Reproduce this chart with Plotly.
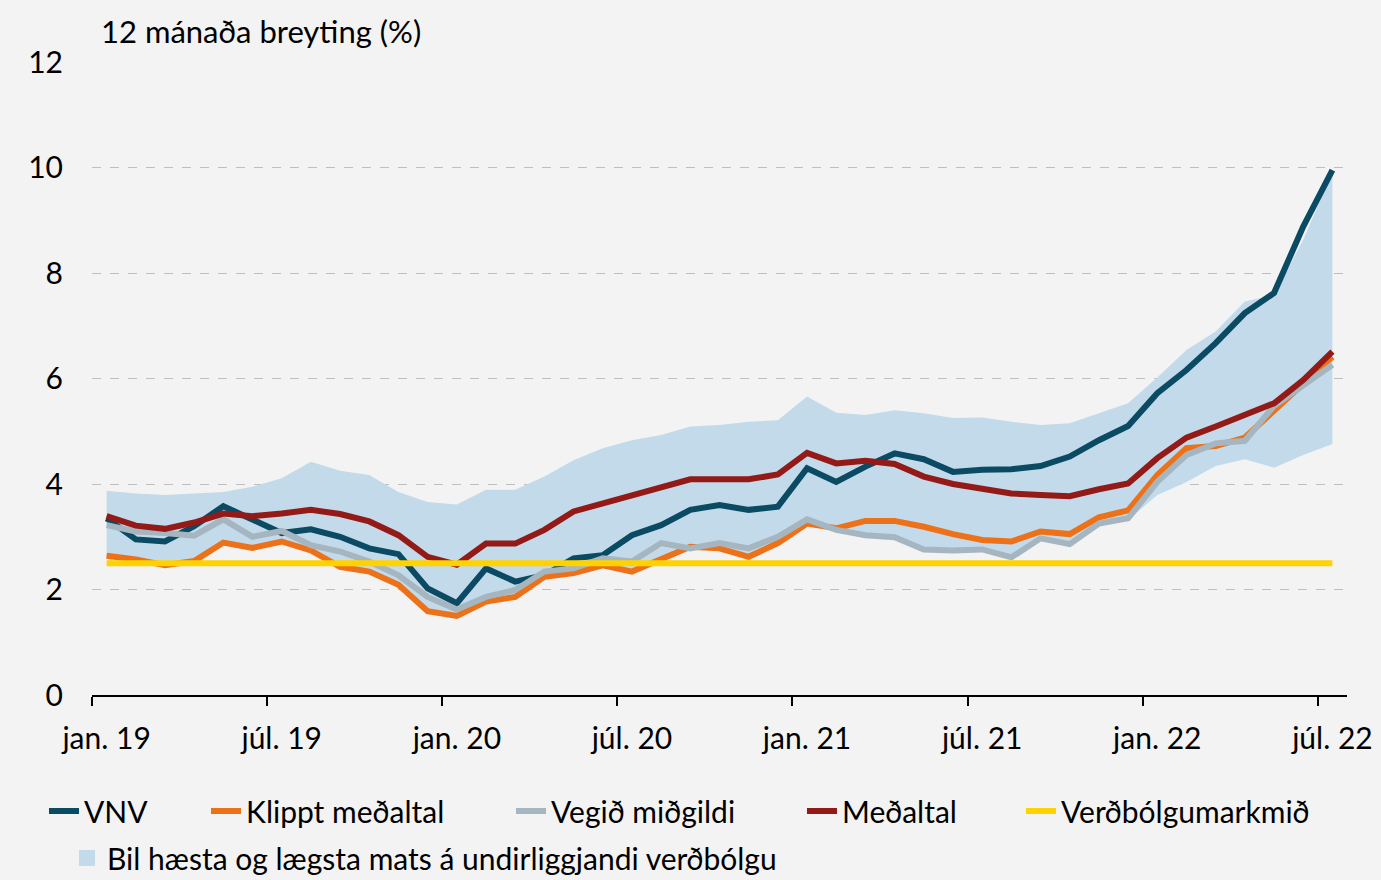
import plotly.graph_objects as go

# ---------------- data ----------------
month_abbr = ["jan.", "feb.", "mar.", "apr.", "maí", "jún.", "júl.", "ágú.", "sep.", "okt.", "nóv.", "des."]
months = [f"{m} {y}" for y in ["19", "20", "21", "22"] for m in month_abbr][:43]  # jan. 19 .. júl. 22

vnv = [3.35, 2.95, 2.91, 3.20, 3.58, 3.32, 3.07, 3.14, 3.00, 2.78, 2.67, 2.02, 1.74,
       2.40, 2.15, 2.27, 2.59, 2.65, 3.03, 3.22, 3.51, 3.60, 3.51, 3.57, 4.30, 4.04,
       4.33, 4.58, 4.47, 4.23, 4.27, 4.28, 4.34, 4.52, 4.83, 5.10, 5.72, 6.16, 6.67,
       7.24, 7.62, 8.88, 9.95]
klippt = [2.64, 2.57, 2.46, 2.54, 2.89, 2.79, 2.91, 2.74, 2.43, 2.34, 2.09, 1.59, 1.50,
          1.77, 1.86, 2.24, 2.31, 2.46, 2.34, 2.59, 2.81, 2.78, 2.62, 2.88, 3.25, 3.16,
          3.30, 3.30, 3.19, 3.05, 2.94, 2.91, 3.10, 3.05, 3.37, 3.50, 4.17, 4.68, 4.72,
          4.88, 5.40, 5.90, 6.41]
vegid = [3.22, 3.10, 3.07, 3.02, 3.33, 3.00, 3.11, 2.84, 2.72, 2.53, 2.27, 1.86, 1.62,
         1.86, 1.99, 2.34, 2.40, 2.59, 2.53, 2.88, 2.78, 2.88, 2.78, 3.00, 3.33, 3.13,
         3.03, 2.99, 2.76, 2.74, 2.76, 2.61, 2.97, 2.86, 3.25, 3.35, 4.04, 4.55, 4.77,
         4.82, 5.48, 5.88, 6.26]
medaltal = [3.39, 3.21, 3.15, 3.27, 3.44, 3.39, 3.44, 3.51, 3.43, 3.29, 3.03, 2.62, 2.47,
            2.87, 2.87, 3.13, 3.48, 3.63, 3.79, 3.92, 4.09, 4.09, 4.09, 4.18, 4.59, 4.39,
            4.44, 4.38, 4.14, 4.00, 3.90, 3.82, 3.79, 3.77, 3.90, 4.01, 4.49, 4.88, 5.09,
            5.31, 5.53, 5.97, 6.51]
markmid = [2.5, 2.5, 2.5, 2.5, 2.5, 2.5, 2.5, 2.5, 2.5, 2.5, 2.5, 2.5, 2.5, 2.5, 2.5,
           2.5, 2.5, 2.5, 2.5, 2.5, 2.5, 2.5, 2.5, 2.5, 2.5, 2.5, 2.5, 2.5, 2.5, 2.5,
           2.5, 2.5, 2.5, 2.5, 2.5, 2.5, 2.5, 2.5, 2.5, 2.5, 2.5, 2.5, 2.5]
bil_haest = [3.87, 3.82, 3.79, 3.82, 3.85, 3.95, 4.11, 4.42, 4.25, 4.17, 3.85, 3.66, 3.61,
             3.89, 3.89, 4.14, 4.45, 4.68, 4.83, 4.93, 5.09, 5.12, 5.18, 5.21, 5.66, 5.35,
             5.31, 5.40, 5.34, 5.25, 5.26, 5.18, 5.12, 5.15, 5.34, 5.53, 6.02, 6.54, 6.89,
             7.46, 7.58, 8.63, 9.92]
bil_laegst = [2.62, 2.55, 2.44, 2.52, 2.87, 2.77, 2.89, 2.72, 2.41, 2.32, 2.07, 1.57, 1.48,
              1.75, 1.84, 2.22, 2.29, 2.44, 2.32, 2.57, 2.76, 2.76, 2.60, 2.86, 3.23, 3.11,
              3.01, 2.97, 2.74, 2.72, 2.74, 2.59, 2.95, 2.84, 3.23, 3.32, 3.79, 4.04, 4.34,
              4.47, 4.31, 4.55, 4.76]

y_ticks = [0, 2, 4, 6, 8, 10, 12]

# ---------------- style ----------------
FONT = "Lato"
FS = 30
BG = "#f3f3f3"
W, H = 1381, 880
col = {
    "vnv": "#0b4a63",
    "klippt": "#ec7118",
    "vegid": "#a5b6c0",
    "medaltal": "#931a16",
    "markmid": "#ffd200",
    "bil": "#c2daea",
}
BAND_NAME = "Bil hæsta og lægsta mats á undirliggjandi verðbólgu"

fig = go.Figure()

# band (lower edge, then upper with fill)
fig.add_trace(go.Scatter(x=months, y=bil_laegst, mode="lines", line=dict(width=0, color=col["bil"]),
                         showlegend=False, hoverinfo="skip", legendgroup="bil"))
fig.add_trace(go.Scatter(x=months, y=bil_haest, mode="lines", line=dict(width=0, color=col["bil"]),
                         fill="tonexty", fillcolor=col["bil"], name=BAND_NAME,
                         showlegend=False, legendgroup="bil"))
# legend key for the band (square swatch)
fig.add_trace(go.Scatter(x=[None], y=[None], mode="markers", name=BAND_NAME, legendgroup="bil",
                         marker=dict(symbol="square", size=26, color=col["bil"]),
                         legend="legend6"))

LW = 6
fig.add_trace(go.Scatter(x=months, y=vnv, mode="lines", name="VNV",
                         line=dict(color=col["vnv"], width=LW), legend="legend"))
fig.add_trace(go.Scatter(x=months, y=klippt, mode="lines", name="Klippt meðaltal",
                         line=dict(color=col["klippt"], width=LW), legend="legend2"))
fig.add_trace(go.Scatter(x=months, y=vegid, mode="lines", name="Vegið miðgildi",
                         line=dict(color=col["vegid"], width=LW), legend="legend3"))
fig.add_trace(go.Scatter(x=months, y=medaltal, mode="lines", name="Meðaltal",
                         line=dict(color=col["medaltal"], width=LW), legend="legend4"))
fig.add_trace(go.Scatter(x=months, y=markmid, mode="lines", name="Verðbólgumarkmið",
                         line=dict(color=col["markmid"], width=LW), legend="legend5"))

# plot area in pixels
L, R, T, B = 92, 34, 62, 185


def leg(text_left_px, center_y_px, **kw):
    d = dict(
        x=(text_left_px - 40) / W, xref="container", xanchor="left",
        y=1 - center_y_px / H, yref="container", yanchor="middle",
        orientation="h", bgcolor="rgba(0,0,0,0)", borderwidth=0,
        font=dict(family=FONT, size=FS, color="#000000"),
    )
    d.update(kw)
    return d


fig.update_layout(
    width=W, height=H,
    margin=dict(l=L, r=R, t=T, b=B, autoexpand=False),
    paper_bgcolor=BG, plot_bgcolor=BG,
    font=dict(family=FONT, size=FS, color="#000000"),
    legend=leg(84, 811),
    legend2=leg(246, 811),
    legend3=leg(551, 811),
    legend4=leg(842, 811),
    legend5=leg(1061, 811),
    legend6=leg(107, 858, itemsizing="trace"),
    xaxis=dict(
        type="category", range=[-0.5, 42.5], dtick=6, tickson="boundaries",
        ticks="outside", ticklen=9, tickwidth=1.5, tickcolor="#000000",
        showline=True, linecolor="#000000", linewidth=1.5, tickangle=0,
        showgrid=False, zeroline=False, ticklabelstandoff=16, automargin=False,
        tickfont=dict(family=FONT, size=FS, color="#000000"),
    ),
    yaxis=dict(
        range=[0, 12], tickvals=y_ticks, ticks="", showline=False,
        showgrid=True, gridcolor="#bfbfbf", griddash="dash", gridwidth=1,
        zeroline=False, ticklabelstandoff=28, automargin=False,
        tickfont=dict(family=FONT, size=FS, color="#000000"),
    ),
    annotations=[dict(
        text="12 mánaða breyting (%)", xref="paper", yref="paper",
        x=(99 - L) / (W - L - R), y=(695 - 31) / (695 - 62),
        xanchor="left", yanchor="middle", showarrow=False,
        font=dict(family=FONT, size=FS + 1, color="#000000"),
    )],
)

fig.write_html("out.html", config={"displayModeBar": False},
               post_script="document.body.style.margin='0';document.body.style.overflow='hidden';")
